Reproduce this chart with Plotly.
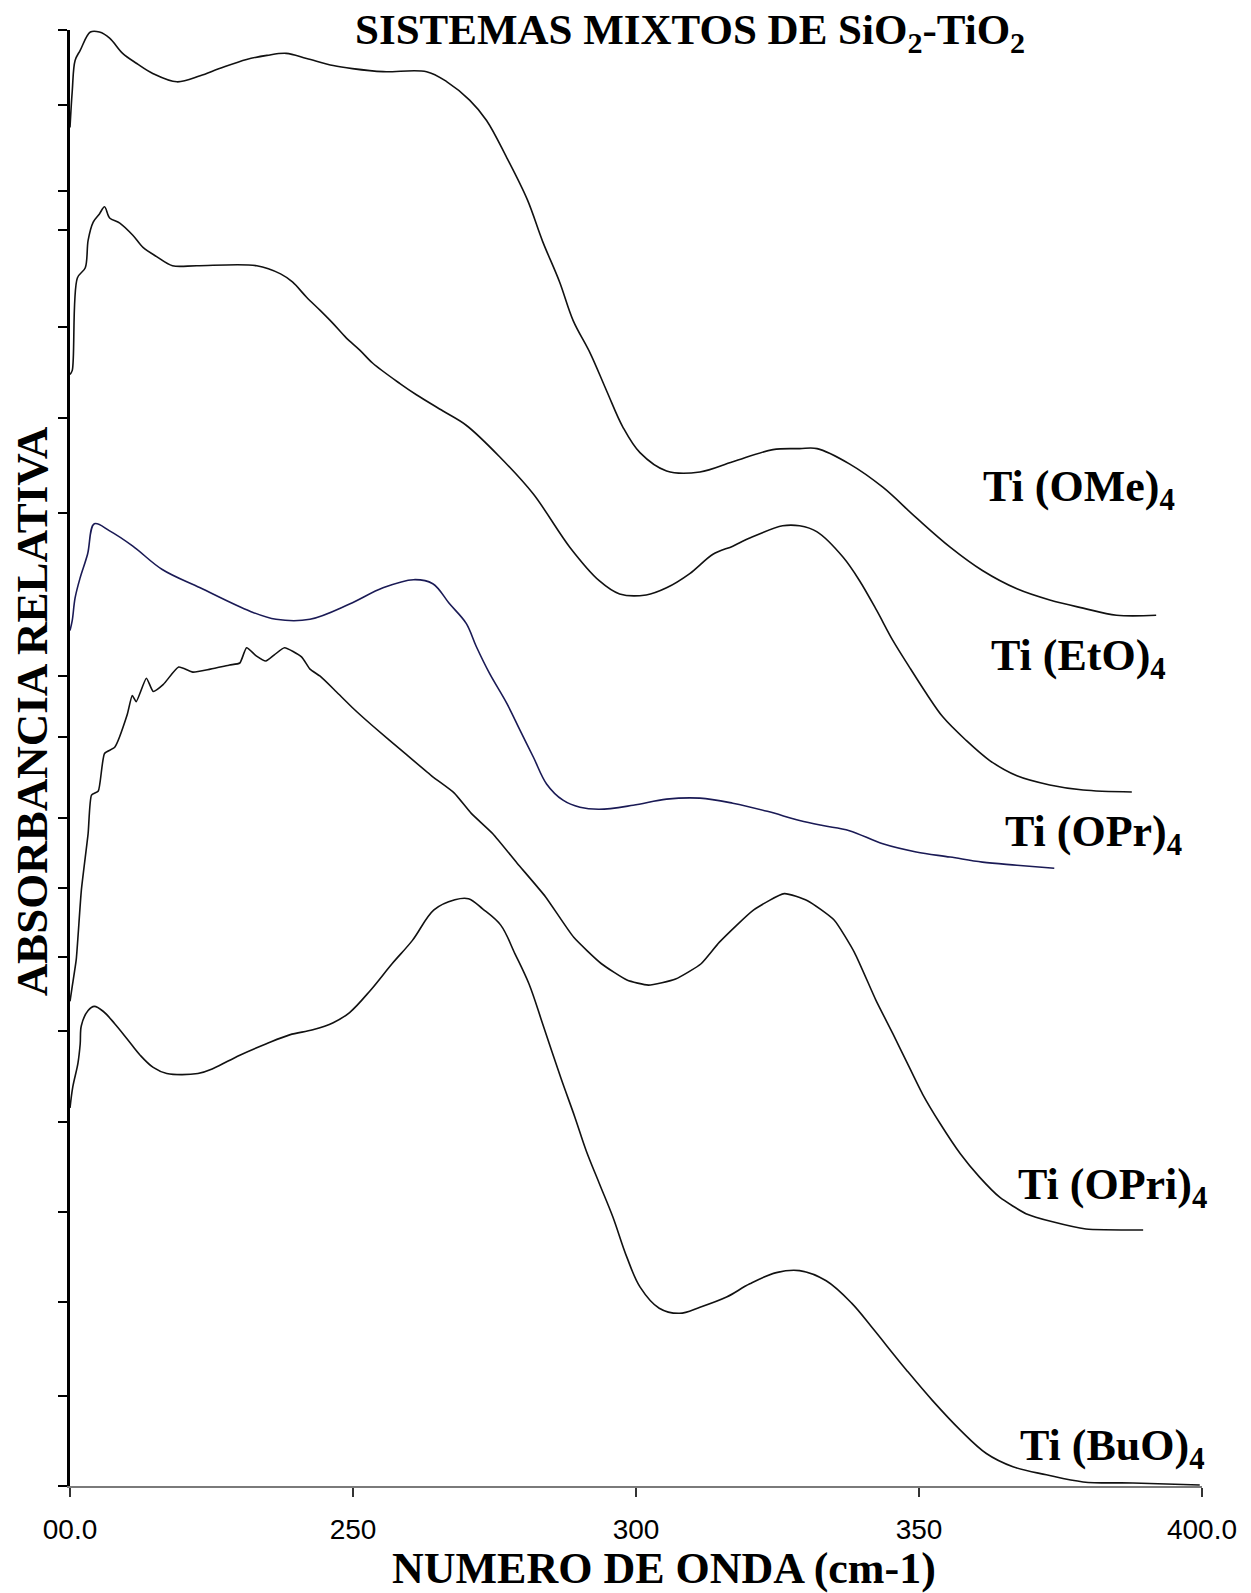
import plotly.graph_objects as go

# ---------------- data ----------------
x_ome = [200.0, 200.4, 200.9, 201.8, 203.6, 205.2, 207.0, 209.3, 211.8, 214.7, 218.9, 223.0, 226.4, 231.2,
         234.8, 238.2, 241.8, 246.5, 249.9, 255.3, 263.0, 266.6, 270.6, 273.6, 277.2, 280.8, 283.5, 286.5,
         288.9, 291.9, 294.8, 297.7, 300.7, 305.4, 311.3, 317.1, 324.2, 328.9, 332.0, 337.7, 343.6, 349.5,
         355.5, 361.2, 367.3, 373.1, 379.0, 384.9, 391.9]
y_ome = [13.37, 13.73, 14.03, 14.13, 14.31, 14.31, 14.25, 14.10, 14.00, 13.90, 13.82, 13.88, 13.95, 14.04,
         14.08, 14.10, 14.05, 13.98, 13.95, 13.92, 13.92, 13.82, 13.64, 13.44, 13.07, 12.66, 12.25, 11.85,
         11.47, 11.15, 10.78, 10.42, 10.17, 9.99, 9.98, 10.08, 10.20, 10.21, 10.21, 10.06, 9.83, 9.53,
         9.24, 9.01, 8.83, 8.72, 8.64, 8.57, 8.57]

x_eto = [200.0, 200.4, 201.3, 202.7, 203.2, 204.1, 205.2, 206.1, 207.0, 208.8, 211.1, 212.9, 215.3, 218.1,
         222.4, 233.0, 237.2, 239.3, 241.8, 244.2, 246.5, 248.8, 251.2, 253.5, 258.3, 261.2, 265.9, 270.0,
         275.9, 281.9, 288.3, 293.5, 297.1, 301.8, 305.4, 309.5, 313.6, 317.1, 320.1, 325.9, 328.9, 332.0,
         336.6, 339.5, 342.5, 345.4, 348.3, 351.3, 354.2, 358.3, 362.5, 367.3, 373.1, 379.0, 387.6]
y_eto = [10.94, 10.98, 11.89, 11.99, 12.26, 12.44, 12.52, 12.59, 12.48, 12.43, 12.31, 12.19, 12.10, 12.01,
         12.01, 12.01, 11.93, 11.85, 11.70, 11.57, 11.44, 11.30, 11.18, 11.05, 10.85, 10.74, 10.58, 10.44,
         10.13, 9.76, 9.24, 8.91, 8.78, 8.77, 8.84, 8.98, 9.17, 9.25, 9.33, 9.45, 9.45, 9.39,
         9.14, 8.91, 8.62, 8.32, 8.06, 7.80, 7.57, 7.34, 7.14, 6.99, 6.90, 6.85, 6.83]

x_opr = [200.0, 200.4, 200.9, 201.8, 203.1, 204.3, 207.0, 211.1, 216.3, 223.0, 231.8, 236.4, 242.4, 249.4,
         255.3, 260.7, 264.1, 267.1, 270.0, 271.8, 274.1, 277.2, 279.5, 281.9, 284.2, 287.1, 290.1, 293.5,
         299.5, 305.4, 311.3, 317.1, 323.2, 328.9, 333.0, 337.7, 343.6, 349.5, 355.5, 361.2, 367.3, 373.9]
y_opr = [8.42, 8.52, 8.74, 8.94, 9.17, 9.47, 9.40, 9.25, 9.02, 8.84, 8.61, 8.53, 8.53, 8.68,
         8.84, 8.92, 8.88, 8.68, 8.49, 8.26, 8.00, 7.70, 7.44, 7.17, 6.91, 6.75, 6.68, 6.66,
         6.70, 6.76, 6.77, 6.72, 6.64, 6.55, 6.50, 6.45, 6.32, 6.24, 6.19, 6.14, 6.11, 6.08]

x_opri = [200.0, 200.4, 201.1, 202.0, 203.2, 203.8, 205.0, 206.1, 207.9, 210.1, 211.0, 211.7, 213.5, 214.7,
          216.5, 219.2, 221.7, 224.8, 228.2, 230.0, 231.2, 232.9, 234.6, 236.1, 237.9, 240.9, 242.4, 244.2,
          247.0, 250.1, 253.5, 259.2, 264.1, 267.9, 270.9, 274.7, 279.0, 284.0, 289.0, 293.9, 298.4, 302.2,
          307.0, 311.5, 314.7, 320.8, 326.2, 330.3, 335.0, 338.6, 342.4, 345.4, 348.3, 350.6, 353.7, 357.3,
          360.7, 364.3, 368.9, 373.6, 379.5, 389.6]
y_opri = [4.77, 4.92, 5.18, 5.86, 6.42, 6.80, 6.84, 7.21, 7.27, 7.59, 7.78, 7.72, 7.95, 7.82,
          7.89, 8.06, 8.01, 8.04, 8.08, 8.10, 8.25, 8.17, 8.12, 8.18, 8.25, 8.16, 8.04, 7.97,
          7.82, 7.65, 7.48, 7.21, 6.98, 6.82, 6.62, 6.42, 6.13, 5.80, 5.40, 5.14, 4.98, 4.93,
          4.99, 5.14, 5.35, 5.67, 5.83, 5.76, 5.57, 5.25, 4.78, 4.45, 4.12, 3.86, 3.57, 3.27,
          3.04, 2.84, 2.68, 2.60, 2.53, 2.52]

x_buo = [200.0, 200.5, 201.4, 201.8, 202.0, 203.2, 204.3, 205.9, 207.9, 210.1, 212.4, 214.7, 217.1, 222.6,
         225.3, 230.0, 234.6, 238.8, 242.9, 246.5, 249.4, 253.1, 256.9, 260.5, 264.3, 268.0, 270.4, 272.9,
         276.1, 278.6, 281.1, 283.5, 286.7, 289.2, 291.2, 293.5, 295.9, 298.4, 300.7, 304.1, 307.7, 311.3,
         316.0, 320.1, 324.8, 328.9, 333.6, 338.1, 342.0, 345.6, 347.8, 352.4, 357.3, 361.9, 366.6, 372.5,
         379.0, 387.8, 399.6]
y_buo = [3.72, 3.93, 4.16, 4.35, 4.53, 4.68, 4.72, 4.67, 4.55, 4.40, 4.24, 4.12, 4.06, 4.06,
         4.11, 4.24, 4.35, 4.44, 4.49, 4.56, 4.66, 4.88, 5.14, 5.37, 5.67, 5.77, 5.78, 5.68,
         5.52, 5.24, 4.94, 4.55, 4.02, 3.63, 3.30, 2.98, 2.65, 2.25, 1.96, 1.75, 1.70, 1.76,
         1.86, 1.99, 2.10, 2.12, 2.02, 1.80, 1.54, 1.29, 1.14, 0.84, 0.55, 0.32, 0.19, 0.11,
         0.04, 0.03, 0.01]

series_names = ["Ti (OMe)<sub>4</sub>", "Ti (EtO)<sub>4</sub>", "Ti (OPr)<sub>4</sub>",
                "Ti (OPri)<sub>4</sub>", "Ti (BuO)<sub>4</sub>"]
label_x = [378.2, 378.2, 380.9, 384.2, 384.2]
label_y = [9.81, 8.14, 6.41, 2.94, 0.37]

x_tickvals = [200, 250, 300, 350, 400]
x_ticktext = ["00.0", "250", "300", "350", "400.0"]
y_tickvals = [14.33, 13.59, 12.75, 12.36, 11.41, 10.51, 9.58, 7.97, 7.37, 6.57, 5.89, 5.21,
              4.48, 3.58, 2.70, 1.81, 0.89, 0.0]

# ---------------- figure ----------------
serif = "Liberation Serif, Times New Roman, serif"
narrow = "Liberation Sans Narrow, Arial Narrow, Liberation Sans, sans-serif"

xs = [x_ome, x_eto, x_opr, x_opri, x_buo]
ys = [y_ome, y_eto, y_opr, y_opri, y_buo]
colors = ["#111111", "#111111", "#1a1a55", "#111111", "#111111"]
smooth = [1.0, 0.9, 1.0, 0.5, 1.0]

fig = go.Figure()
for xv, yv, c, n, s in zip(xs, ys, colors, series_names, smooth):
    fig.add_trace(go.Scatter(x=xv, y=yv, mode="lines", name=n,
                             line=dict(color=c, width=1.6, shape="spline", smoothing=s),
                             showlegend=False, hoverinfo="skip"))

annotations = []
for n, lx, ly in zip(series_names, label_x, label_y):
    annotations.append(dict(x=lx, y=ly, xref="x", yref="y", text="<b>" + n + "</b>",
                            showarrow=False, xanchor="center", yanchor="middle",
                            font=dict(family=serif, size=44, color="#000")))

annotations.append(dict(x=0.5475, y=0.998, xref="paper", yref="paper",
                        text="<b>SISTEMAS MIXTOS DE SiO<sub>2</sub>-TiO<sub>2</sub></b>",
                        showarrow=False, xanchor="center", yanchor="middle",
                        font=dict(family=serif, size=43, color="#000")))
annotations.append(dict(x=-0.0336, y=0.532, xref="paper", yref="paper",
                        text="<b>ABSORBANCIA RELATIVA</b>", textangle=-90,
                        showarrow=False, xanchor="center", yanchor="middle",
                        font=dict(family=serif, size=45, color="#000")))
annotations.append(dict(x=0.525, y=-0.0565, xref="paper", yref="paper",
                        text="<b>NUMERO DE ONDA (cm-1)</b>",
                        showarrow=False, xanchor="center", yanchor="middle",
                        font=dict(family=serif, size=44, color="#000")))

# the page body adds an 8px margin, so the figure is shifted by that amount
fig.update_layout(
    width=1243, height=1585,
    margin=dict(l=62, r=49, t=22, b=107),
    paper_bgcolor="white", plot_bgcolor="white",
    annotations=annotations,
    xaxis=dict(range=[200, 400], tickvals=x_tickvals, ticktext=x_ticktext,
               showgrid=False, zeroline=False, showline=True, linecolor="#7a7a7a",
               linewidth=2, ticks="outside", ticklen=9, tickwidth=2, tickcolor="#333",
               tickfont=dict(family=narrow, size=28, color="#000"),
               ticklabelstandoff=8),
    yaxis=dict(range=[0, 14.33], tickvals=y_tickvals, showticklabels=False,
               showgrid=False, zeroline=False, showline=True, linecolor="#000",
               linewidth=2.5, ticks="outside", ticklen=9, tickwidth=2, tickcolor="#000"),
)

fig.write_html("out.html")
